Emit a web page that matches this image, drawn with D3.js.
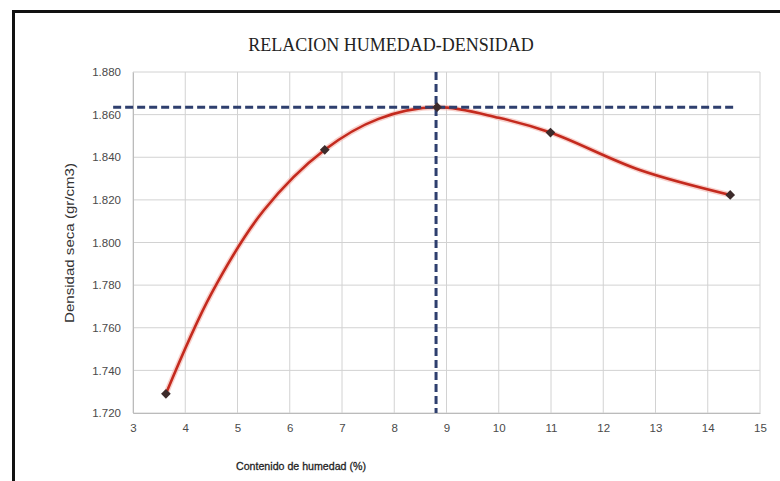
<!DOCTYPE html>
<html><head><meta charset="utf-8">
<script src="https://cdn.jsdelivr.net/npm/d3@7"></script>
<style>body{margin:0;background:#fff}svg{display:block}</style>
</head><body>
<svg id="c" width="780" height="481"></svg>
<script>
const title = "RELACION HUMEDAD-DENSIDAD";
const xLabel = "Contenido de humedad (%)";
const yLabel = "Densidad seca (gr/cm3)";
// measured points (markers)
const humedad = [3.63, 6.67, 8.82, 10.99, 14.43];
const densidad = [1.729, 1.8435, 1.8635, 1.8516, 1.8223];
// smoothed curve
const curvaHum  = [3.63, 4.5, 5.5, 6.67, 7.7, 8.82, 10.0, 10.99, 12.7, 14.43];
const curvaDens = [1.729, 1.776, 1.815, 1.8435, 1.858, 1.8635, 1.8585, 1.8516, 1.834, 1.8223];
const xTicks = [3,4,5,6,7,8,9,10,11,12,13,14,15];
const yTicks = [1.72,1.74,1.76,1.78,1.80,1.82,1.84,1.86,1.88];
const optHum = 8.8;       // vertical reference (humedad óptima)
const maxDens = 1.8635;   // horizontal reference (densidad máxima)
const hLineX = [2.62, 14.55];
const vLineY = [1.72, 1.88];

const svg = d3.select("#c");
const m = {l:133, r:760, t:72, b:413};
const x = d3.scaleLinear().domain([3,15]).range([m.l, m.r]);
const y = d3.scaleLinear().domain([1.72,1.88]).range([m.b, m.t]);

svg.append("rect").attr("width",780).attr("height",481).attr("fill","#fff");
// outer frame
svg.append("path").attr("d","M13.5,481 V11.5 H780").attr("fill","none").attr("stroke","#111").attr("stroke-width",3);

// title
svg.append("text").attr("x",391).attr("y",50.5).attr("text-anchor","middle")
  .attr("font-family","Liberation Serif, Times New Roman, serif").attr("font-size",18)
  .attr("fill","#222").text(title);

// grid
const g = svg.append("g");
g.selectAll(".vg").data(xTicks).join("line")
  .attr("x1",d=>x(d)).attr("x2",d=>x(d)).attr("y1",m.t).attr("y2",m.b)
  .attr("stroke","#d2d2d2").attr("stroke-width",1);
g.selectAll(".hg").data(yTicks).join("line")
  .attr("x1",m.l).attr("x2",m.r).attr("y1",d=>y(d)).attr("y2",d=>y(d))
  .attr("stroke","#d2d2d2").attr("stroke-width",1);

// axes
const xa = svg.append("g").attr("transform",`translate(0,${m.b})`)
  .call(d3.axisBottom(x).tickValues(xTicks).tickFormat(d3.format("d")).tickSize(0).tickPadding(11));
const ya = svg.append("g").attr("transform",`translate(${m.l},0)`)
  .call(d3.axisLeft(y).tickValues(yTicks).tickFormat(d3.format(".3f")).tickSize(0).tickPadding(12));
[xa,ya].forEach(a=>{
  a.select(".domain").attr("stroke","#bbb");
  a.selectAll("text").attr("font-family","Liberation Sans, Arial, sans-serif").attr("font-size",11.5).attr("fill","#4a4a4a");
});

// axis labels
svg.append("text").attr("x",301).attr("y",470).attr("text-anchor","middle")
  .attr("font-family","Liberation Sans, Arial, sans-serif").attr("font-size",11.5)
  .attr("fill","#1e1e1e").attr("stroke","#1e1e1e").attr("stroke-width",0.3)
  .attr("textLength",130).attr("lengthAdjust","spacingAndGlyphs").text(xLabel);
svg.append("text").attr("transform","translate(74,243) rotate(-90)").attr("text-anchor","middle")
  .attr("font-family","Liberation Sans, Arial, sans-serif").attr("font-size",12).attr("fill","#333")
  .attr("textLength",160).attr("lengthAdjust","spacingAndGlyphs").text(yLabel);

// curve
const cpts = curvaHum.map((h,i)=>[h,curvaDens[i]]);
const line = d3.line().x(d=>x(d[0])).y(d=>y(d[1])).curve(d3.curveCatmullRom.alpha(0.5));
svg.append("path").datum(cpts).attr("d",line).attr("fill","none").attr("stroke","#f4b3aa").attr("stroke-width",5.5).attr("opacity",0.6);
svg.append("path").datum(cpts).attr("d",line).attr("fill","none").attr("stroke","#c42a1e").attr("stroke-width",2.6);

// reference dashed lines
svg.append("line").attr("x1",x(hLineX[0])).attr("x2",x(hLineX[1])).attr("y1",y(maxDens)).attr("y2",y(maxDens))
  .attr("stroke","#2e3f6e").attr("stroke-width",3).attr("stroke-dasharray","8,4");
svg.append("line").attr("x1",x(optHum)).attr("x2",x(optHum)).attr("y1",y(vLineY[1])).attr("y2",y(vLineY[0]))
  .attr("stroke","#2e3f6e").attr("stroke-width",3).attr("stroke-dasharray","8,4");

// markers
const pts = humedad.map((h,i)=>[h,densidad[i]]);
svg.selectAll(".mk").data(pts).join("path")
  .attr("d",d3.symbol(d3.symbolDiamond2,60))
  .attr("transform",d=>`translate(${x(d[0])},${y(d[1])})`)
  .attr("fill","#3d2b2b");
</script>
</body></html>
